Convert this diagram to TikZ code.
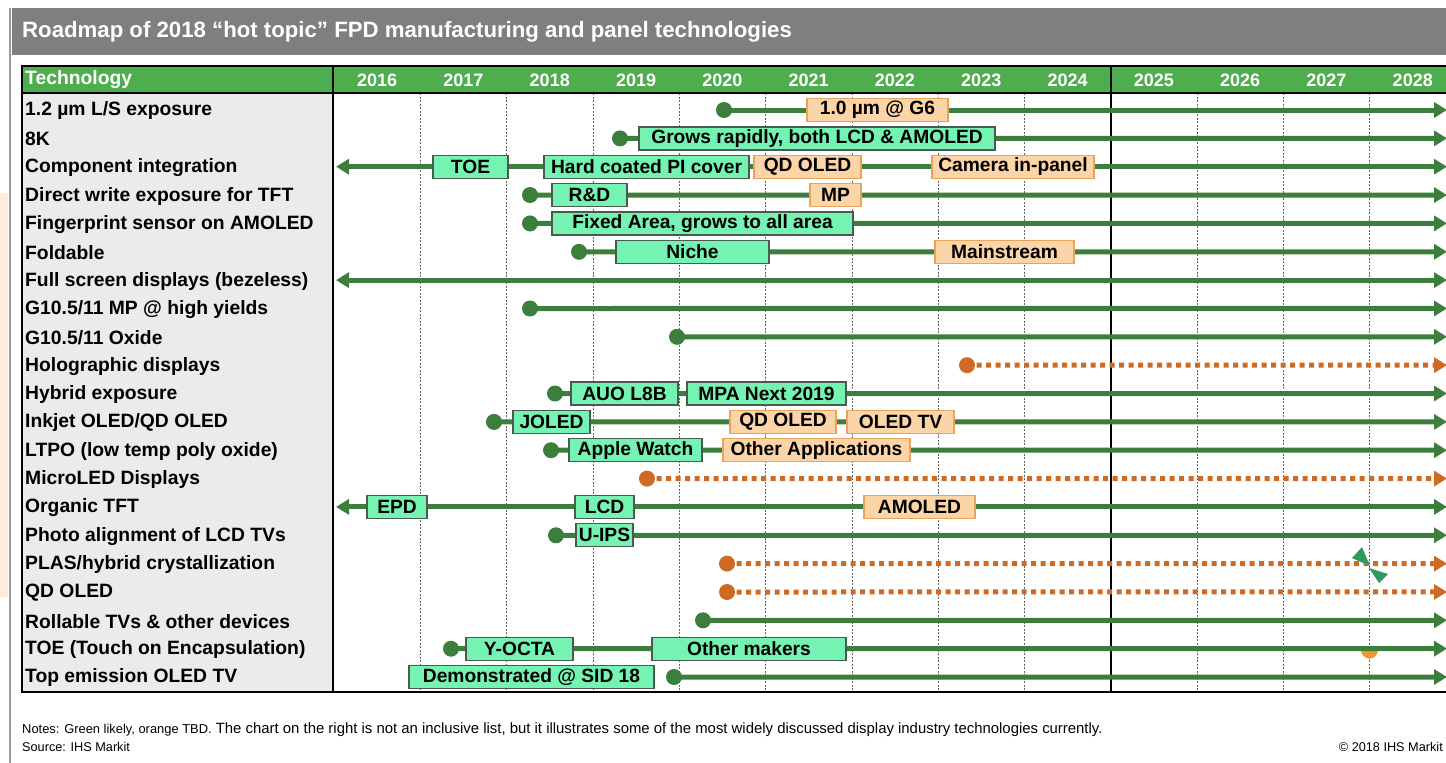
\documentclass[tikz,border=0pt]{standalone}
\usepackage{fontspec}
\setmainfont{Liberation Sans}
\usetikzlibrary{
    arrows.meta,   % Triangle tips
    positioning    % Relative positioning
}

\definecolor{barGray}{HTML}{7F7F7F}
\definecolor{frameGray}{HTML}{9A9A9A}
\definecolor{hdrGreen}{HTML}{4EAE4E}
\definecolor{colGray}{HTML}{EBEBEB}
\definecolor{lineGreen}{HTML}{3C7E3C}
\definecolor{boxGreen}{HTML}{74F3B3}
\definecolor{boxEdge}{HTML}{4A5A50}
\definecolor{boxOrange}{HTML}{FBD4A7}
\definecolor{oboxEdge}{HTML}{E8A45C}
\definecolor{dotOrange}{HTML}{CD6B25}
\definecolor{halfOrange}{HTML}{F0962E}
\definecolor{artGreen}{HTML}{2E9A5E}
\definecolor{peach}{HTML}{FDEBDD}

\tikzset{
    titletext/.style={anchor=west,inner sep=0pt,text=white,font=\fontsize{22.2}{23}\selectfont\bfseries},
    rowlabel/.style={anchor=west,inner sep=0pt,font=\fontsize{19.3}{20}\selectfont\bfseries},
    yearlabel/.style={inner sep=0pt,text=white,font=\fontsize{18}{18}\selectfont\bfseries},
    gbox/.style={draw=boxEdge,fill=boxGreen,line width=1.2pt,minimum height=23pt,inner sep=0pt,
        font=\fontsize{19.2}{20}\selectfont\bfseries},
    obox/.style={gbox,draw=oboxEdge,fill=boxOrange},
    gdot/.style={circle,fill=lineGreen,minimum size=16pt,inner sep=0pt},
    odot/.style={gdot,fill=dotOrange},
    gline/.style={draw=lineGreen,line width=5pt,-{Triangle[length=13pt,width=15pt]}},
    bothline/.style={gline,{Triangle[length=13pt,width=15pt]}-{Triangle[length=13pt,width=15pt]}},
    oline/.style={draw=dotOrange,line width=5pt,dash pattern=on 5pt off 4.5pt,
        -{Triangle[length=13pt,width=15pt]}},
    gridline/.style={draw=black!60,line width=0.6pt,dash pattern=on 2pt off 1.5pt},
    notetext/.style={anchor=west,inner sep=0pt,font=\fontsize{14.9}{15}\selectfont},
}

\begin{document}
\begin{tikzpicture}[x=1pt,y=-1pt]
    \useasboundingbox (0,0) rectangle (1446,763);

    % frame and title bar
    \fill[peach] (0,193) rectangle (8,597);
    \draw[frameGray,line width=1.5pt] (10,8) -- (10,763);
    \fill[barGray] (12,8) rectangle (1446,55);
    \node[titletext] (title) at (22,32) {Roadmap of 2018 “hot topic” FPD manufacturing and panel technologies};

    % table
    \fill[hdrGreen] (22,66) rectangle (1446,93);
    \fill[colGray] (22,93) rectangle (333,692);
    \foreach \k in {1,...,8,10,11,12}
        \draw[gridline] ({334+86.3*\k},93) -- ({334+86.3*\k},692);
    \draw[line width=1.2pt] (22,66) rectangle (1452,692);
    \draw[line width=1.5pt] (22,93) -- (1446,93);
    \draw[line width=1.5pt] (333,66) -- (333,692);
    \draw[line width=1.5pt] (1111,66) -- (1111,692);

    \node[rowlabel,text=white] (tech) at (25,80) {Technology};
    \foreach \yr [count=\k from 0] in {2016,...,2028}
        \node[yearlabel] (y\yr) at ({377.15+86.3*\k},80) {\yr};

    \foreach \t [count=\i from 0] in {{1.2 µm L/S exposure},8K,Component integration,
        Direct write exposure for TFT,Fingerprint sensor on AMOLED,Foldable,
        Full screen displays (bezeless),G10.5/11 MP @ high yields,G10.5/11 Oxide,
        Holographic displays,Hybrid exposure,Inkjet OLED/QD OLED,
        LTPO (low temp poly oxide),MicroLED Displays,Organic TFT,
        Photo alignment of LCD TVs,PLAS/hybrid crystallization,QD OLED,
        Rollable TVs \& other devices,TOE (Touch on Encapsulation),Top emission OLED TV}
    {
        \node[rowlabel] (lab\i) at (25,{111+28.35*\i}) {\t};
        \coordinate (w\i) at (336,{110+28.35*\i});
        \coordinate (e\i) at (1447,{110+28.35*\i});
    }

    % start dots
    \node[gdot] (d0) at (724,110) {};
    \node[gdot] (d1) at (620,138.4) {};
    \node[gdot] (d3) at (530,195) {};
    \node[gdot] (d4) at (530,223.4) {};
    \node[gdot] (d5) at (579,251.8) {};
    \node[gdot] (d7) at (530,308.5) {};
    \node[gdot] (d8) at (677,336.8) {};
    \node[odot] (d9) at (967,365.2) {};
    \node[gdot] (d10) at (555,393.5) {};
    \node[gdot] (d11) at (494,421.9) {};
    \node[gdot] (d12) at (551,450.2) {};
    \node[odot] (d13) at (647,478.6) {};
    \node[gdot] (d15) at (556,535.3) {};
    \node[odot] (d16) at (727,563.6) {};
    \node[odot] (d17) at (727,592) {};
    \node[gdot] (d18) at (703,620.3) {};
    \node[gdot] (d19) at (451,648.7) {};
    \node[gdot] (d20) at (674,677) {};

    \fill[halfOrange] (1361,650) arc[start angle=180,end angle=0,radius=8.5] -- cycle;

    % timelines
    \foreach \i in {0,1,3,4,5,7,8,10,11,12,15,18,19,20}
        \draw[gline] (d\i.center) -- (e\i);
    \foreach \i in {9,13,16,17}
        \draw[oline] (d\i.center) -- (e\i);
    \foreach \i in {2,6,14}
        \draw[bothline] (w\i) -- (e\i);

    \fill[artGreen] (1352,558) -- (1362,547) -- (1370,566) -- cycle;
    \fill[artGreen] (1369,568) -- (1388,574) -- (1379,583) -- cycle;

    % milestone boxes
    \node[obox,minimum width=141pt] (b0a) at (877.5,110) {1.0 µm @ G6};
    \node[gbox,minimum width=356pt] (b1a) at (817,138.4) {Grows rapidly, both LCD \& AMOLED};
    \node[gbox,minimum width=75pt] (b2a) at (470.5,166.7) {TOE};
    \node[gbox,minimum width=205pt] (b2b) at (646.5,166.7) {Hard coated PI cover};
    \node[obox,minimum width=107pt] (b2c) at (807.5,166.7) {QD OLED};
    \node[obox,minimum width=162pt] (b2d) at (1013,166.7) {Camera in-panel};
    \node[gbox,minimum width=75pt] (b3a) at (589.5,195) {R\&D};
    \node[obox,minimum width=51pt] (b3b) at (835.5,195) {MP};
    \node[gbox,minimum width=301pt] (b4a) at (702.5,223.4) {Fixed Area, grows to all area};
    \node[gbox,minimum width=153pt] (b5a) at (692.5,251.8) {Niche};
    \node[obox,minimum width=139pt] (b5b) at (1004.5,251.8) {Mainstream};
    \node[gbox,minimum width=107pt] (b10a) at (624.5,393.5) {AUO L8B};
    \node[gbox,minimum width=159pt] (b10b) at (766.5,393.5) {MPA Next 2019};
    \node[gbox,minimum width=77pt] (b11a) at (551.5,421.9) {JOLED};
    \node[obox,minimum width=106pt] (b11b) at (783,421.9) {QD OLED};
    \node[obox,minimum width=107pt] (b11c) at (900.5,421.9) {OLED TV};
    \node[gbox,minimum width=133pt] (b12a) at (635.5,450.2) {Apple Watch};
    \node[obox,minimum width=187pt] (b12b) at (816.5,450.2) {Other Applications};
    \node[gbox,minimum width=60pt] (b14a) at (397,506.9) {EPD};
    \node[gbox,minimum width=59pt] (b14b) at (604.5,506.9) {LCD};
    \node[obox,minimum width=111pt] (b14c) at (919.5,506.9) {AMOLED};
    \node[gbox,minimum width=57pt] (b15a) at (604.5,535.3) {U-IPS};
    \node[gbox,minimum width=107pt] (b19a) at (519.5,648.7) {Y-OCTA};
    \node[gbox,minimum width=194pt] (b19b) at (749,648.7) {Other makers};
    \node[gbox,minimum width=245pt] (b20a) at (531.5,677) {Demonstrated @ SID 18};

    % footer
    \node[notetext] (notes) at (22,730) {{\fontsize{12.9}{13}\selectfont Notes: Green likely, orange TBD.} The chart on the right is not an inclusive list, but it illustrates some of the most widely discussed display industry technologies currently.};
    \node[notetext,font=\fontsize{12.7}{13}\selectfont] (source) at (22,747) {Source: IHS Markit};
    \node[notetext,anchor=east,font=\fontsize{12.7}{13}\selectfont] (copy) at (1443,747) {© 2018 IHS Markit};
\end{tikzpicture}
\end{document}
